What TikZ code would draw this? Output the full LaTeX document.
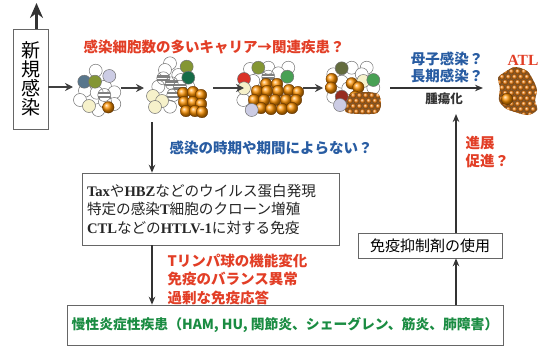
\documentclass[tikz,border=0pt]{standalone}
\usepackage{fontspec}
\setmainfont{Liberation Serif}
\newfontfamily\jp{Noto Sans CJK JP}
\usetikzlibrary{positioning}
\usetikzlibrary{calc}
\usetikzlibrary{arrows.meta}
\definecolor{alertred}{RGB}{226,62,38}
\definecolor{askblue}{RGB}{40,92,162}
\definecolor{chronicgreen}{RGB}{26,140,66}
\definecolor{slatecell}{RGB}{88,118,140}
\definecolor{olivecell}{RGB}{132,150,52}
\definecolor{mosscell}{RGB}{100,108,62}
\definecolor{pinecell}{RGB}{22,108,72}
\definecolor{leafcell}{RGB}{72,160,84}
\definecolor{lilaccell}{RGB}{204,204,228}
\definecolor{creamcell}{RGB}{246,241,202}
\definecolor{rubycell}{RGB}{218,50,40}
\definecolor{rustcell}{RGB}{150,44,32}
\tikzset{
    % A resting cell in one of the clusters
    cell/.style={draw=black!55, fill=white, line width=0.5pt},
%
    % Boxes with a thin grey frame
    framed/.style={draw=black!60, line width=0.6pt, fill=white},
%
    % Coloured remarks beside the arrows
    red note/.style={font=\jp\bfseries\fontsize{14.5}{18.5}\selectfont,
        text=alertred, align=left},
    blue note/.style={font=\jp\bfseries\fontsize{14.5}{17}\selectfont,
        text=askblue, align=left},
%
    % Connectors between the stages
    flow/.style={-{Stealth[length=8pt, width=8pt]}, draw=black!75,
        line width=2.2pt},
    link/.style={-{Stealth[length=8pt, width=6.5pt]}, draw=black!80,
        line width=1.4pt}}

\begin{document}
\begin{tikzpicture}[x=1pt, y=-1pt]
\useasboundingbox (0,0) rectangle (548,348);

% Plain cells listed as x/y pairs, a coloured cell, a banded cell and an
% orange clone cell
\newcommand{\cells}[1]{
    \foreach \cx/\cy in {#1} {\draw [cell] (\cx,\cy) circle (6.5pt);}}
\newcommand{\tinted}[3]{\draw [cell, fill=#3] (#1,#2) circle (6.5pt);}
\newcommand{\banded}[2]{
\begin{scope}[shift={(#1,#2)}]
    \begin{scope}
        \clip (0,0) circle (6.5pt);
        \fill [black!50] (-7,-3) rectangle (7,3);
        \fill [white] (-7,-0.7) rectangle (7,0.7);
    \end{scope}
    \draw [cell, fill=none] (0,0) circle (6.5pt);
\end{scope}}
\newcommand{\clone}[2]{
    \shadedraw [ball color=orange!85!yellow, draw=orange!40!black,
        line width=0.3pt] (#1,#2) circle (5.8pt);}
% Densely packed small clone cells inside a closed outline
\newcommand{\packed}[3]{
\begin{scope}
    \fill [brown!70!black] plot [smooth cycle] coordinates {#1};
    \clip plot [smooth cycle] coordinates {#1};
    \foreach \row in {0,...,9}
        \foreach \col in {0,...,7} {
            \pgfmathsetmacro\bx{#2+\col*6.2+mod(\row,2)*3.1}
            \pgfmathsetmacro\by{#3+\row*5.4}
            \shade [ball color=orange!80!brown] (\bx,\by) circle (2.8pt);
        }
\end{scope}}

% New infection and the way out of it
\node [framed, minimum width=35pt, minimum height=100pt, align=center,
    font=\jp\fontsize{19}{19}\selectfont] (new) at (30.5,79)
    {新\\規\\感\\染};
\coordinate (exit) at (36.5,3);
\draw [-{Stealth[length=15pt, width=13pt, inset=5pt]}, draw=black!80,
    line width=3.6pt] (new.north -| exit) -- (exit);

% Early carrier: a few infected cells
\cells{95.7/70.7, 105/86.7, 114.3/92.3, 85/90.7, 96.7/92.7, 80/100,
    98.3/110, 114.3/104, 105/101.7}
\tinted{84.3}{81.7}{slatecell}
\tinted{95}{81.7}{olivecell}
\tinted{109.3}{76}{lilaccell}
\banded{104.3}{95}
\tinted{89}{106}{creamcell}
\clone{108.3}{107.3}

% First clones expand
\cells{170/63.3, 165/70, 178.3/75, 188.3/86.7, 158.3/86.7, 170/106.7,
    181/80}
\tinted{186.7}{66.7}{olivecell}
\tinted{188.3}{77.7}{pinecell}
\banded{163.3}{78.3}
\banded{171.7}{83.3}
\banded{180}{86.7}
\banded{173.3}{95}
\tinted{153}{96}{creamcell}
\tinted{162}{101}{creamcell}
\tinted{155}{107}{creamcell}
\foreach \ox/\oy in {183/93, 193/92, 201/95, 184/102, 193/102, 201/104,
    186/111, 195/111, 202/112}
    {\clone{\ox}{\oy}}

% Carrier with many infected cells
\cells{250/69, 268.3/67.7, 288.3/67.7, 278.3/73.3, 253.3/81, 243.3/100}
\tinted{258.3}{67.7}{olivecell}
\banded{268.3}{76.7}
\tinted{287.3}{76.7}{leafcell}
\tinted{244}{79}{rubycell}
\tinted{244}{88.3}{creamcell}
\foreach \ox/\oy in {266/84, 277/84, 257/91, 267/91, 278/91, 289/90,
    298/92, 254/100, 264/100, 275/100, 286/100, 296/100, 261/108, 271/109,
    282/109, 292/108}
    {\clone{\ox}{\oy}}
\tinted{251.7}{110}{lilaccell}

% One clone takes over
\cells{351.7/67.7, 366.7/67.7, 333.3/74.3, 361.7/74.3, 341.7/81.7,
    348.3/88.3, 373.3/87.7, 333.3/96.7}
\tinted{341.7}{68.3}{mosscell}
\tinted{363.3}{81}{creamcell}
\tinted{373.3}{80}{leafcell}
\foreach \ox/\oy in {331.7/79, 351.7/83.3, 331/87.7, 358.3/87.3, 355/96.7}
    {\clone{\ox}{\oy}}
\packed{(350,95) (364,92) (378,94) (381,104) (377,113) (360,114)
    (346,112) (345,102)}{344}{90}
\tinted{341.7}{96.7}{rustcell}
\tinted{340}{105}{lilaccell}

% ATL
\packed{(505,72) (515,67) (527,71) (533,80) (537,90) (535,100) (537,110)
    (528,115) (515,112) (505,108) (499,100) (500,88) (498,78)}{496}{66}
\clone{507}{99}
\node [font=\bfseries\fontsize{15.5}{16}\selectfont, text=alertred]
    (atl) at (523,60) {ATL};

% Arrows between the stages
\coordinate (c1 in) at (73,87);
\coordinate (c1 out) at (121,88);
\coordinate (c2 in) at (144,88);
\coordinate (c2 out) at (213,88);
\coordinate (c3 in) at (244,88);
\coordinate (c3 out) at (303,88);
\coordinate (c4 in) at (323,88);
\coordinate (c4 out) at (390,88);
\coordinate (atl in) at (483,88);
\draw [flow, line width=2.6pt] (new.east |- c1 in) -- (c1 in);
\draw [flow] (c1 out) -- (c2 in);
\draw [flow] (c2 out) -- (c3 in);
\draw [flow] (c3 out) -- (c4 in);
\draw [link, line width=1.7pt] (c4 out) -- (atl in);

\node [red note] (carrier) at (214,47) {感染細胞数の多いキャリア→関連疾患？};
\node [blue note, align=center] (route) at (447,67.5) {母子感染？\\長期感染？};
\node [font=\jp\bfseries\fontsize{12.5}{14}\selectfont, text=black!80]
    (tumor) at (444,99) {腫瘍化};

% Host factors
\coordinate (split) at (152,122);
\node [blue note, anchor=west] (timing) at (166,148)
    {感染の時期や期間によらない？};
\node [framed, text width=247pt, inner sep=5pt, minimum height=72pt,
    align=left, font=\bfseries\fontsize{14.6}{18.5}\selectfont,
    text=black!85] (factors) at (210.5,209)
    {Tax{\jp\mdseries や}HBZ{\jp\mdseries などのウイルス蛋白発現}\\
     {\jp\mdseries 特定の感染}T{\jp\mdseries 細胞のクローン増殖}\\
     CTL{\jp\mdseries などの}HTLV-1{\jp\mdseries に対する免疫}};
\draw [link] (split) -- (split |- factors.north);

\node [red note, anchor=west] (immune) at (164,279)
    {Tリンパ球の機能変化\\免疫のバランス異常\\過剰な免疫応答};

% Chronic disease and the route back to ATL
\node [framed, minimum width=436pt, minimum height=40pt,
    font=\jp\bfseries\fontsize{13.8}{16}\selectfont, text=chronicgreen]
    (chronic) at (285,325)
    {慢性炎症性疾患（HAM, HU, 関節炎、シェーグレン、筋炎、肺障害）};
\draw [link] (factors.south -| split) -- (split |- chronic.north);

\node [framed, minimum width=144pt, minimum height=25pt,
    font=\jp\fontsize{15}{16}\selectfont] (drug) at (430,245.5)
    {免疫抑制剤の使用};
\coordinate (rise) at (456,114);
\draw [link] (chronic.north -| rise) -- (rise |- drug.south);
\draw [link] (drug.north -| rise) -- (rise);
\node [red note, anchor=west] (promote) at (462,152) {進展\\促進？};

\end{tikzpicture}
\end{document}
